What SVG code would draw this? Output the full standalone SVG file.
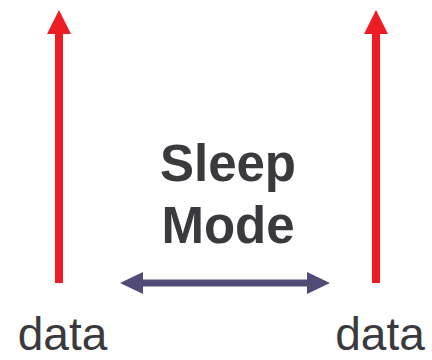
<svg xmlns="http://www.w3.org/2000/svg" width="432" height="360" viewBox="0 0 432 360">
<style>
.lbl{font-family:"Liberation Sans",Arial,sans-serif;fill:#3a3a3e;text-anchor:middle}
.b{font-weight:bold}
</style>
<rect width="432" height="360" fill="#fff"/>
<g id="connectors">
<polygon id="arrow-left" fill="#ee1c25" points="55,283 63,283 63,34 71,34 59,10 47,34 55,34"/>
<polygon id="arrow-right" fill="#ee1c25" points="372,283 380,283 380,34 388,34 376,10 364,34 372,34"/>
<polygon id="sleep-arrow" fill="#514c77" points="120,283 143,272 143,279.5 307,279.5 307,272 330,283 307,294 307,286.5 143,286.5 143,294"/>
</g>
<g id="label-sleep">
<text class="lbl b" x="228" y="181" font-size="51">Sleep</text>
<text class="lbl b" x="228" y="243" font-size="51">Mode</text>
</g>
<g id="data-left"><text class="lbl" x="62.5" y="350" font-size="46">data</text></g>
<g id="data-right"><text class="lbl" x="380" y="350" font-size="46">data</text></g>
</svg>
